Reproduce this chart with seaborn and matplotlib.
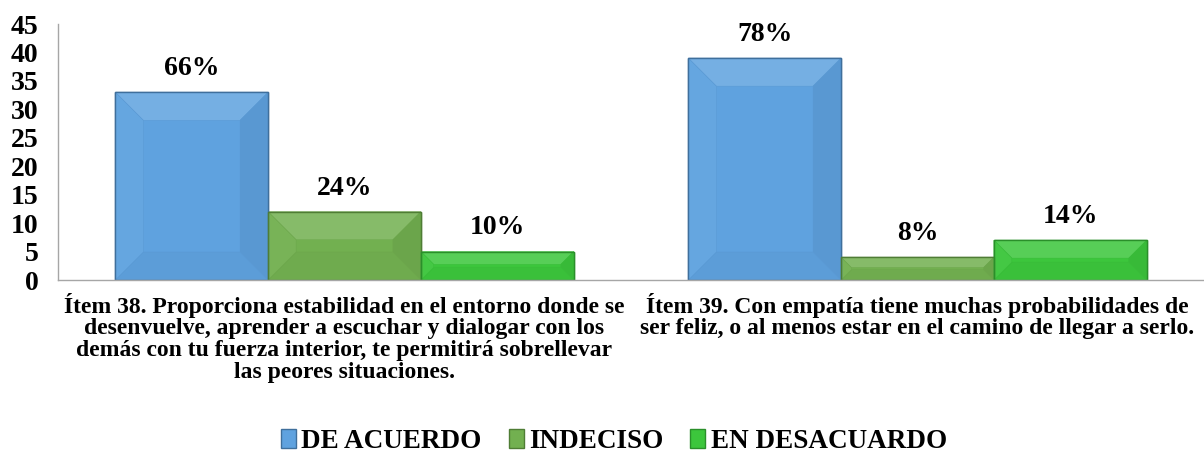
import matplotlib
matplotlib.use("Agg")
import matplotlib.pyplot as plt
import matplotlib.colors as mcolors
import seaborn as sns
import pandas as pd
import numpy as np
from matplotlib.patches import Patch, Polygon

categories = [
    "Ítem 38. Proporciona estabilidad en el entorno donde se\ndesenvuelve, aprender a escuchar y dialogar con los\ndemás con tu fuerza interior, te permitirá sobrellevar\nlas peores situaciones.",
    "Ítem 39. Con empatía tiene muchas probabilidades de\nser feliz, o al menos estar en el camino de llegar a serlo.",
]
series = ["DE ACUERDO", "INDECISO", "EN DESACUARDO"]
de_acuerdo = [33, 39]
indeciso = [12, 4]
en_desacuerdo = [5, 7]
pct_de_acuerdo = ["66%", "78%"]
pct_indeciso = ["24%", "8%"]
pct_en_desacuerdo = ["10%", "14%"]
yticks = [0, 5, 10, 15, 20, 25, 30, 35, 40, 45]

colors = ["#5FA2DF", "#72B050", "#3CC63C"]
edges = ["#3F6F9C", "#4F7D35", "#2A8F2A"]

rows = []
for s, vals, pcts in zip(series, [de_acuerdo, indeciso, en_desacuerdo],
                         [pct_de_acuerdo, pct_indeciso, pct_en_desacuerdo]):
    for c, v, p in zip(categories, vals, pcts):
        rows.append({"cat": c, "serie": s, "valor": v, "pct": p})
df = pd.DataFrame(rows)

sns.set_style("white")
plt.rcParams["font.family"] = ["Liberation Serif", "DejaVu Serif"]
plt.rcParams["font.weight"] = "bold"
plt.rcParams["text.color"] = "black"
plt.rcParams["xtick.color"] = "black"
plt.rcParams["ytick.color"] = "black"

fig = plt.figure(figsize=(12.04, 4.54), dpi=100)
ax = fig.add_axes([58 / 1204, 1 - 280 / 454, 1 - 58 / 1204, (280 - 24) / 454])

sns.barplot(data=df, x="cat", y="valor", hue="serie", order=categories,
            hue_order=series, palette=colors, width=0.8, saturation=1,
            ax=ax, legend=False)

ax.set_ylim(0, 45)
ax.set_xlim(-0.5, 1.5)


def mix(c, other, t):
    a = np.array(mcolors.to_rgb(c))
    b = np.array(mcolors.to_rgb(other))
    return tuple(a * (1 - t) + b * t)


fig.canvas.draw()
to_disp = ax.transData
to_data = ax.transData.inverted()

for i, cont in enumerate(ax.containers):
    s = series[i]
    sub = df[df["serie"] == s].set_index("cat").loc[categories]
    base = colors[i]
    for bar, p in zip(cont, sub["pct"]):
        bar.set_edgecolor(edges[i])
        bar.set_linewidth(1.0)
        x0, y0 = bar.get_x(), bar.get_y()
        w, h = bar.get_width(), bar.get_height()
        (px0, py0), (px1, py1) = to_disp.transform([(x0, y0), (x0 + w, y0 + h)])
        b = min(28.0, 0.45 * (py1 - py0))
        outer = [(px0, py1), (px1, py1), (px1, py0), (px0, py0)]
        inner = [(px0 + b, py1 - b), (px1 - b, py1 - b), (px1 - b, py0 + b), (px0 + b, py0 + b)]
        faces = [
            ([outer[0], outer[1], inner[1], inner[0]], mix(base, "white", 0.14)),  # top
            ([outer[1], outer[2], inner[2], inner[1]], mix(base, "black", 0.06)),  # right
            ([outer[2], outer[3], inner[3], inner[2]], mix(base, "black", 0.03)),  # bottom
            ([outer[3], outer[0], inner[0], inner[3]], mix(base, "white", 0.04)),  # left
        ]
        for pts, col in faces:
            poly = Polygon(to_data.transform(pts), closed=True, facecolor=col,
                           edgecolor=mix(base, "black", 0.06), linewidth=0.3,
                           zorder=bar.get_zorder() + 0.1)
            ax.add_patch(poly)
        frame = Polygon(to_data.transform(outer), closed=True, fill=False,
                        edgecolor=edges[i], linewidth=1.0,
                        zorder=bar.get_zorder() + 0.2)
        ax.add_patch(frame)
        x = x0 + w / 2
        ax.annotate(p, (x, h), xytext=(0, 8), textcoords="offset points",
                    ha="center", va="bottom", fontsize=20, fontweight="bold",
                    color="black")

ax.set_yticks(yticks)
ax.set_yticklabels([str(t) for t in yticks], fontsize=20, fontweight="bold")
ax.tick_params(axis="y", length=0, pad=14, colors="black")
ax.tick_params(axis="x", length=0, pad=9, labelsize=17, colors="black")
for lab in ax.get_xticklabels():
    lab.set_fontweight("bold")
    lab.set_multialignment("center")
    lab.set_linespacing(1.06)
ax.set_xlabel("")
ax.set_ylabel("")

for side in ["top", "right"]:
    ax.spines[side].set_visible(False)
ax.spines["left"].set_color("#A6A6A6")
ax.spines["bottom"].set_color("#A6A6A6")
ax.spines["left"].set_linewidth(1)
ax.spines["bottom"].set_linewidth(1)

handles = [Patch(facecolor=c, edgecolor=e) for c, e in zip(colors, edges)]
leg = fig.legend(handles, series, loc="center", bbox_to_anchor=(614 / 1204, 1 - 441 / 454),
                 ncol=3, frameon=False, handlelength=0.55,
                 handleheight=0.7, handletextpad=0.2, columnspacing=1.0,
                 prop={"weight": "bold", "size": 19.5})
for t in leg.get_texts():
    t.set_color("black")

fig.savefig("out.png", dpi=100)
